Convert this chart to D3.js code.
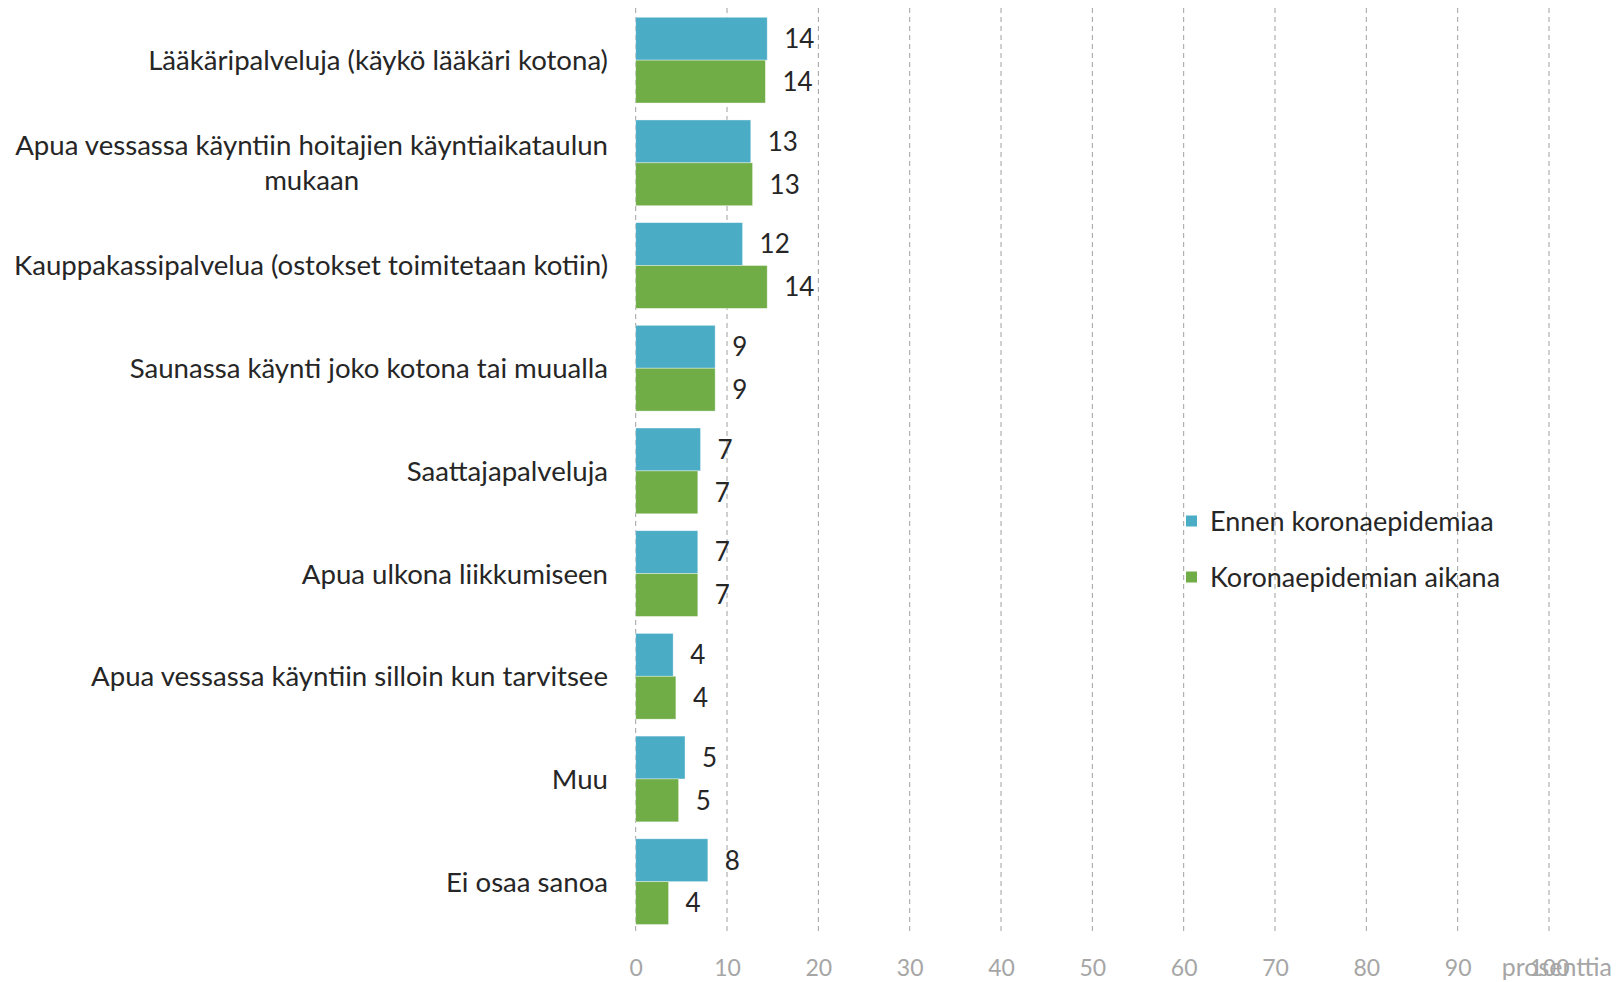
<!DOCTYPE html>
<html>
<head>
<meta charset="utf-8">
<script src="https://cdn.jsdelivr.net/npm/d3@7"></script>
<style>
  body { margin: 0; background: #fff; }
  svg text { font-family: Lato, "Open Sans", sans-serif; }
</style>
</head>
<body>
<div id="chart"></div>
<script>
// categories, top to bottom (multi-line labels split with \n)
const categories = [
  "Lääkäripalveluja (käykö lääkäri kotona)",
  "Apua vessassa käyntiin hoitajien käyntiaikataulun\nmukaan",
  "Kauppakassipalvelua (ostokset toimitetaan kotiin)",
  "Saunassa käynti joko kotona tai muualla",
  "Saattajapalveluja",
  "Apua ulkona liikkumiseen",
  "Apua vessassa käyntiin silloin kun tarvitsee",
  "Muu",
  "Ei osaa sanoa"
];
const seriesNames = ["Ennen koronaepidemiaa", "Koronaepidemian aikana"];
const before = [14.4, 12.6, 11.7, 8.7, 7.1, 6.8, 4.1, 5.4, 7.9];
const during = [14.2, 12.8, 14.4, 8.7, 6.8, 6.8, 4.4, 4.7, 3.6];
const xTicks = [0, 10, 20, 30, 40, 50, 60, 70, 80, 90, 100];
const unitLabel = "prosenttia";

const colors = ["#4bacc6", "#70ad47"];
const width = 1616, height = 982;

const svg = d3.select("#chart").append("svg")
  .attr("width", width).attr("height", height);

const x = d3.scaleLinear().domain([0, 100]).range([635.7, 1549]);
const y = d3.scaleBand().domain(categories).range([8.8, 933])
  .paddingInner(0.165).paddingOuter(0.0825);
const sub = d3.scaleBand().domain([0, 1]).range([0, y.bandwidth()]);

// gridlines (dashed)
svg.append("g")
  .selectAll("line")
  .data(xTicks)
  .join("line")
  .attr("x1", d => x(d)).attr("x2", d => x(d))
  .attr("y1", 8).attr("y2", 933)
  .attr("stroke", "#a0a0a0")
  .attr("stroke-width", 1)
  .attr("stroke-dasharray", "5,4");

// x axis labels
const xAxis = d3.axisBottom(x).tickValues(xTicks).tickSize(0).tickPadding(0);
const gx = svg.append("g").attr("transform", "translate(0,976)").call(xAxis);
gx.select(".domain").remove();
gx.selectAll("text")
  .attr("fill", "#a6a6a6")
  .style("font-size", "23px")
  .attr("dy", null);

svg.append("text")
  .attr("x", 1612).attr("y", 976)
  .attr("text-anchor", "end")
  .attr("fill", "#a6a6a6")
  .style("font-size", "25px")
  .text(unitLabel);

// bars
const rows = categories.map((c, i) => ({ cat: c, vals: [before[i], during[i]] }));
const groups = svg.append("g").selectAll("g")
  .data(rows)
  .join("g")
  .attr("transform", d => `translate(0,${y(d.cat)})`);

groups.selectAll("rect")
  .data(d => d.vals.map((v, k) => ({ v, k })))
  .join("rect")
  .attr("x", x(0))
  .attr("y", d => sub(d.k))
  .attr("width", d => x(d.v) - x(0))
  .attr("height", sub.bandwidth())
  .attr("fill", d => colors[d.k])
  .attr("stroke", "#fff")
  .attr("stroke-opacity", 0.5)
  .attr("stroke-width", 0.75);

groups.selectAll("text.val")
  .data(d => d.vals.map((v, k) => ({ v, k })))
  .join("text")
  .attr("class", "val")
  .attr("x", d => x(d.v) + 17)
  .attr("y", d => sub(d.k) + sub.bandwidth() / 2)
  .attr("dy", "0.36em")
  .attr("fill", "#262626")
  .style("font-size", "26px")
  .text(d => Math.round(d.v));

// category labels
const labelX = 608;
groups.each(function (d) {
  const lines = d.cat.split("\n");
  const g = d3.select(this);
  const lh = 35;
  const t = g.append("text")
    .attr("y", y.bandwidth() / 2 - (lines.length - 1) * lh / 2)
    .attr("dy", "0.36em")
    .attr("fill", "#262626")
    .style("font-size", "27.6px");
  if (lines.length === 1) {
    t.attr("x", labelX).attr("text-anchor", "end").text(lines[0]);
  } else {
    // wrapped labels are centred on the widest line
    t.attr("text-anchor", "middle");
    const spans = lines.map((l, i) => t.append("tspan").attr("dy", i === 0 ? "0.36em" : lh).text(l));
    const w = d3.max(spans, s => s.node().getComputedTextLength());
    spans.forEach(s => s.attr("x", labelX - w / 2));
    t.attr("dy", null);
  }
});

// legend
const legend = svg.append("g").attr("transform", "translate(1186,0)");
const legendY = [521, 577];
seriesNames.forEach((name, i) => {
  legend.append("rect")
    .attr("x", 0).attr("y", legendY[i] - 5.5)
    .attr("width", 11).attr("height", 11)
    .attr("fill", colors[i]);
  legend.append("text")
    .attr("x", 24).attr("y", legendY[i])
    .attr("dy", "0.36em")
    .attr("fill", "#262626")
    .style("font-size", "27px")
    .text(name);
});
</script>
</body>
</html>
